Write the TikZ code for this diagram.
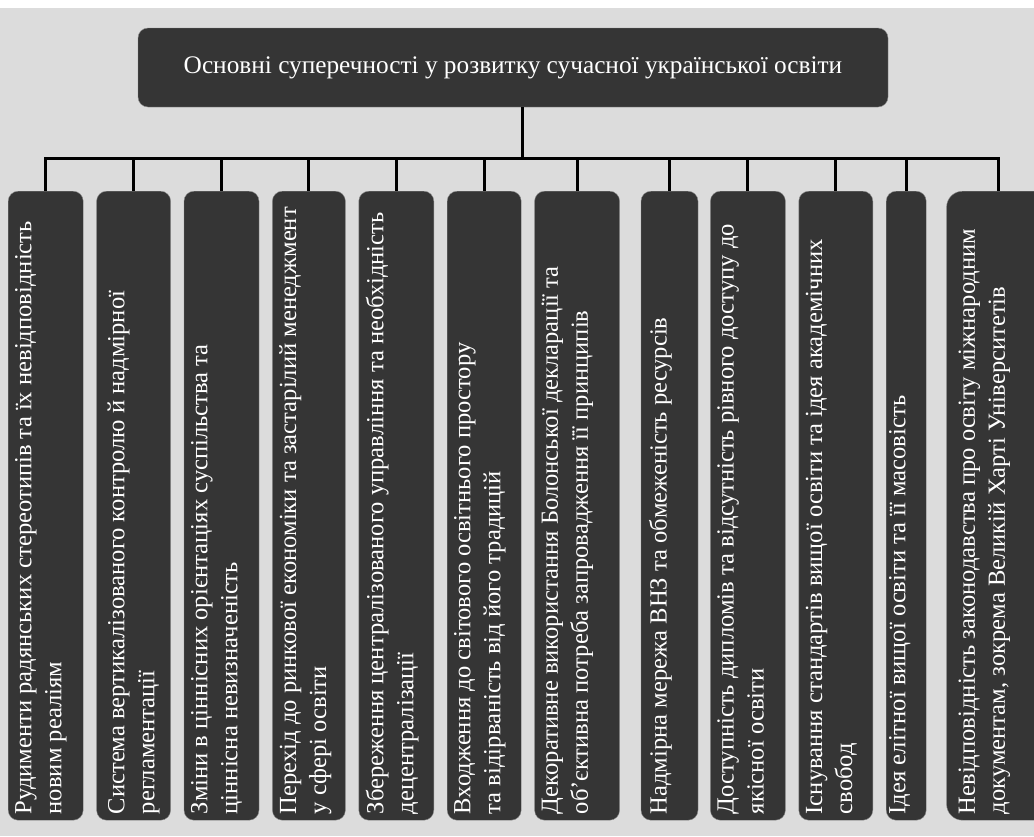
\documentclass[tikz,border=0pt]{standalone}
\usepackage{fontspec}
\setmainfont{Liberation Serif}
\usetikzlibrary{positioning}
\definecolor{boxgrey}{HTML}{353535}
\definecolor{edgegrey}{HTML}{8A8A8A}
\definecolor{pagegrey}{HTML}{DCDCDC}

\begin{document}
\begin{tikzpicture}
[x=1pt, y=-1pt,
   link/.style={line width=3pt, draw=black},
   headG/.style={shape=rectangle, rounded corners=10pt, draw=edgegrey, fill=boxgrey, text=white, minimum width=750pt, minimum height=79pt, font=\fontsize{25.3}{29}\selectfont},
   itemG/.style={shape=rectangle, rounded corners=10pt, draw=edgegrey, fill=boxgrey, minimum height=629pt, inner sep=0pt},
   itemT/.style={rotate=90, anchor=north west, align=left, inner sep=0pt, text=white, font=\fontsize{24.6}{30}\selectfont}]
\useasboundingbox (0,0) rectangle (1034,836);
\fill[pagegrey] (0,8) rectangle (1034,836);
\node[headG] (title) at (513,67.5) {Основні суперечності у розвитку сучасної української освіти};
\node[itemG, minimum width=75pt, anchor=north west] (b1) at (8,191) {};
\node[itemG, minimum width=74pt, right=13pt of b1] (b2) {};
\node[itemG, minimum width=75pt, right=13pt of b2] (b3) {};
\node[itemG, minimum width=73pt, right=13pt of b3] (b4) {};
\node[itemG, minimum width=75pt, right=13pt of b4] (b5) {};
\node[itemG, minimum width=74pt, right=13pt of b5] (b6) {};
\node[itemG, minimum width=85pt, right=13pt of b6] (b7) {};
\node[itemG, minimum width=57pt, right=21pt of b7] (b8) {};
\node[itemG, minimum width=75pt, right=12pt of b8] (b9) {};
\node[itemG, minimum width=74pt, right=13pt of b9] (b10) {};
\node[itemG, minimum width=40pt, right=13pt of b10] (b11) {};
\node[itemG, minimum width=104pt, right=20pt of b11, rounded corners=16pt] (b12) {};
\node[itemT] (t1) at ([shift={(7,-6)}]b1.south west) {Рудименти радянських стереотипів та їх невідповідність\\новим реаліям};
\node[itemT] (t2) at ([shift={(11,-6)}]b2.south west) {Система вертикалізованого контролю й надмірної\\регламентації};
\node[itemT] (t3) at ([shift={(7,-6)}]b3.south west) {Зміни в ціннісних орієнтаціях суспільства та\\ціннісна невизначеність};
\node[itemT] (t4) at ([shift={(7,-6)}]b4.south west) {Перехід до ринкової економіки та застарілий менеджмент\\у сфері освіти};
\node[itemT] (t5) at ([shift={(7,-6)}]b5.south west) {Збереження централізованого управління та необхідність\\децентралізації};
\node[itemT] (t6) at ([shift={(7,-6)}]b6.south west) {Входження до світового освітнього простору\\та відірваність від його традицій};
\node[itemT] (t7) at ([shift={(7,-6)}]b7.south west) {Декоративне використання Болонської декларації та\\об’єктивна потреба запровадження її принципів};
\node[itemT] (t8) at ([shift={(8,-6)}]b8.south west) {Надмірна мережа ВНЗ та обмеженість ресурсів};
\node[itemT] (t9) at ([shift={(7,-6)}]b9.south west) {Доступність дипломів та відсутність рівного доступу до\\якісної освіти};
\node[itemT] (t10) at ([shift={(7,-6)}]b10.south west) {Існування стандартів вищої освіти та ідея академічних\\свобод};
\node[itemT] (t11) at ([shift={(3,-6)}]b11.south west) {Ідея елітної вищої освіти та її масовість};
\node[itemT] (t12) at ([shift={(12,-6)}]b12.south west) {Невідповідність законодавства про освіту міжнародним\\документам, зокрема Великій Харті Університетів};
\coordinate (hub) at (522,158);
\draw[link] (title.south -| hub) -- (hub);
\draw[link, line cap=rect] (b1.north |- hub) -- (b12.north |- hub);
\draw[link] (b1.north |- hub) -- (b1.north);
\draw[link] (b2.north |- hub) -- (b2.north);
\draw[link] (b3.north |- hub) -- (b3.north);
\draw[link] (b4.north |- hub) -- (b4.north);
\draw[link] (b5.north |- hub) -- (b5.north);
\draw[link] (b6.north |- hub) -- (b6.north);
\draw[link] (b7.north |- hub) -- (b7.north);
\draw[link] (b8.north |- hub) -- (b8.north);
\draw[link] (b9.north |- hub) -- (b9.north);
\draw[link] (b10.north |- hub) -- (b10.north);
\draw[link] (b11.north |- hub) -- (b11.north);
\draw[link] (b12.north |- hub) -- (b12.north);
\end{tikzpicture}
\end{document}
